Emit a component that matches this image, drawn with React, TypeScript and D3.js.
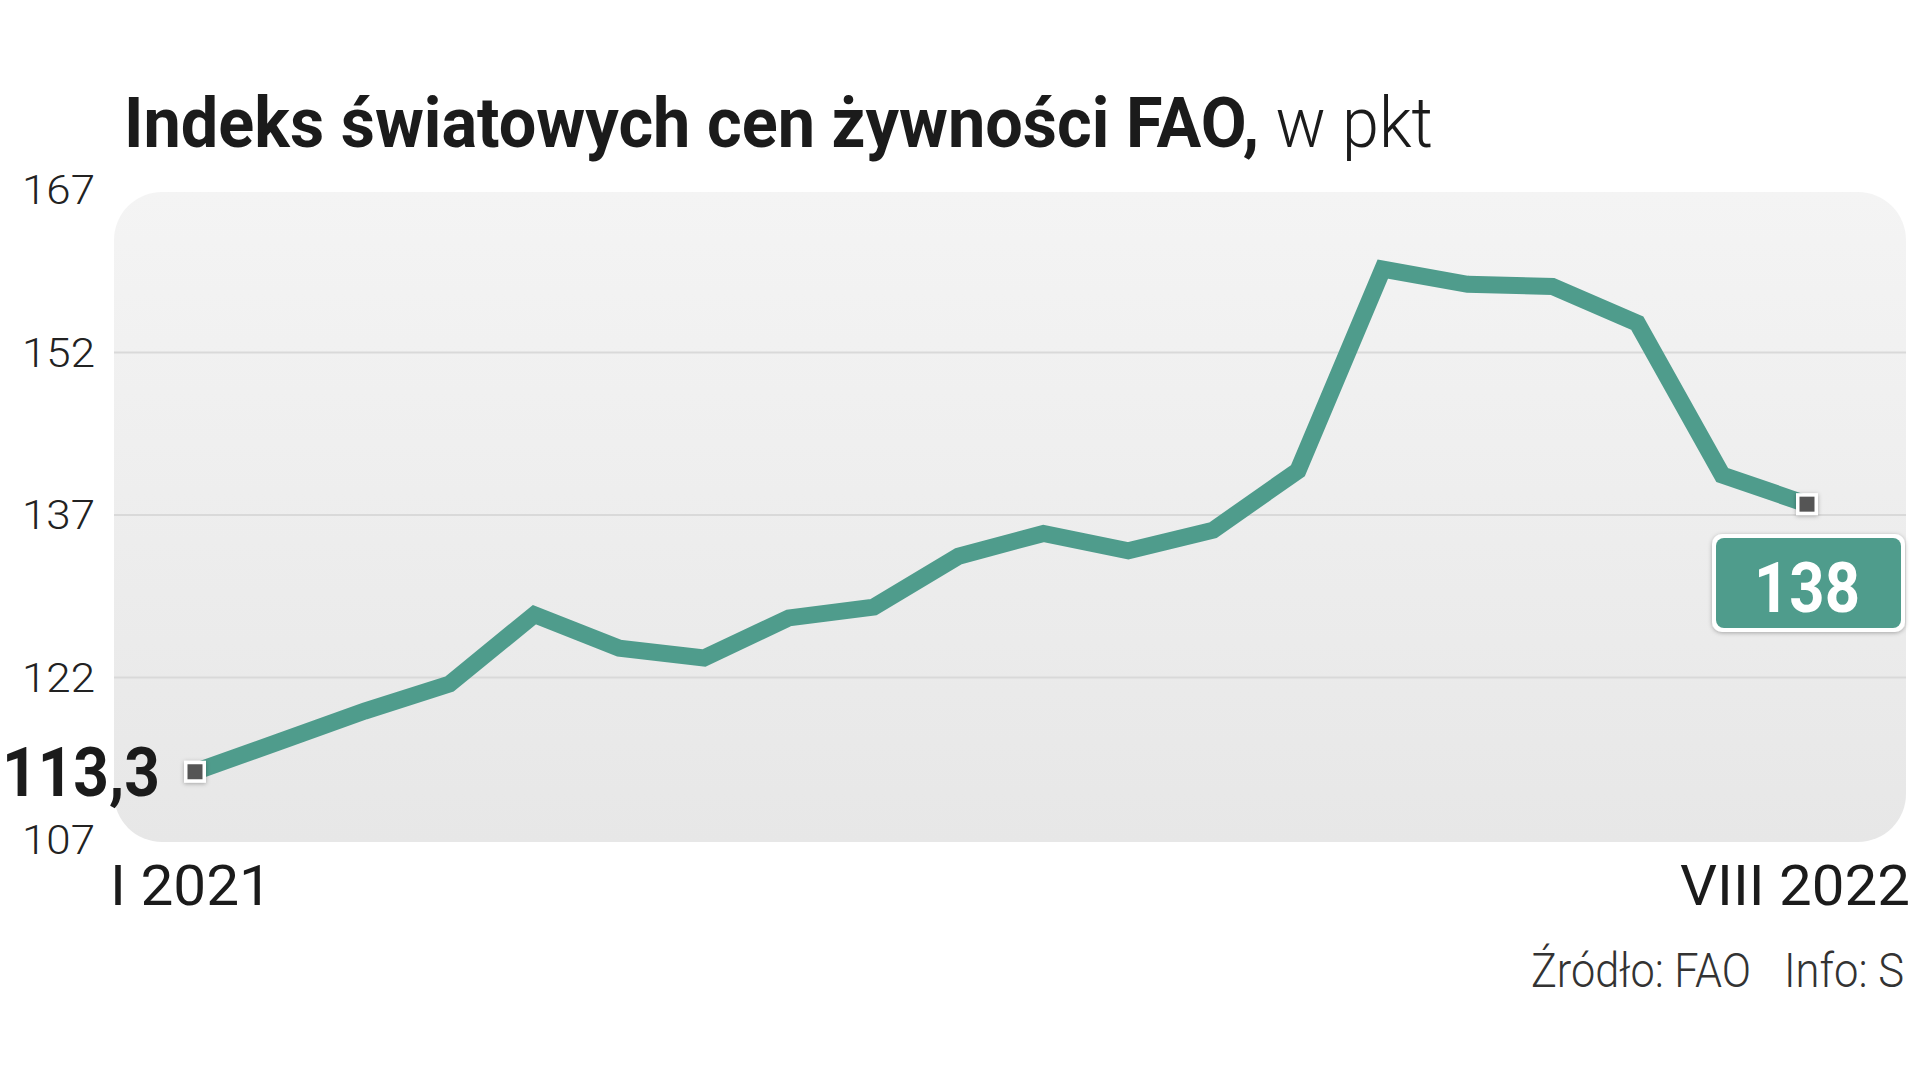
import React from "react";
import * as d3 from "d3";

const months = [
  "I 2021", "II 2021", "III 2021", "IV 2021", "V 2021", "VI 2021", "VII 2021", "VIII 2021",
  "IX 2021", "X 2021", "XI 2021", "XII 2021", "I 2022", "II 2022", "III 2022", "IV 2022",
  "V 2022", "VI 2022", "VII 2022", "VIII 2022",
];
const values = [
  113.3, 116.1, 118.9, 121.4, 127.8, 124.7, 123.8, 127.5, 128.5, 133.2,
  135.3, 133.7, 135.6, 141.1, 159.7, 158.3, 158.1, 154.7, 140.7, 138.0,
];
const yTicks = [107, 122, 137, 152, 167];
const titleBold = "Indeks światowych cen żywności FAO,";
const titleLight = " w pkt";
const firstLabel = "113,3";
const lastLabel = "138";
const sourceText = "Źródło: FAO";
const infoText = "Info: S";

const W = 1920;
const H = 1080;
const TEAL = "#4f9c8c";

export default function App() {
  const x = d3.scalePoint<string>().domain(months).range([195, 1807]);
  const y = d3.scaleLinear().domain([107, 167]).range([840, 190]);
  const line = d3
    .line<number>()
    .x((_, i) => x(months[i]) as number)
    .y((d) => y(d));

  const panel = { x0: 114, x1: 1906, y0: 192, y1: 842 };
  const n = values.length;
  const fx = x(months[0]) as number;
  const fy = y(values[0]);
  const lx = x(months[n - 1]) as number;
  const ly = y(values[n - 1]);

  return (
    <svg
      width={W}
      height={H}
      viewBox={`0 0 ${W} ${H}`}
      style={{ position: "absolute", left: 0, top: 0, background: "#fff" }}
    >
      <defs>
        <linearGradient id="bg" x1="0" y1="0" x2="0" y2="1">
          <stop offset="0" stopColor="#f4f4f4" />
          <stop offset="1" stopColor="#e7e7e7" />
        </linearGradient>
        <filter id="sh" x="-30%" y="-30%" width="160%" height="160%">
          <feDropShadow dx="0" dy="1" stdDeviation="2" floodColor="#000" floodOpacity="0.3" />
        </filter>
      </defs>

      {/* Title */}
      <text
        x={124}
        y={147}
        fontFamily="Roboto, 'Noto Sans', sans-serif"
        fontSize={70}
        fill="#1b1b1b"
        textLength={1309}
        lengthAdjust="spacingAndGlyphs"
        style={{ whiteSpace: "pre" }}
      >
        <tspan fontWeight={700}>{titleBold}</tspan>
        <tspan fontWeight={300}>{titleLight}</tspan>
      </text>

      {/* Panel */}
      <rect
        x={panel.x0}
        y={panel.y0}
        width={panel.x1 - panel.x0}
        height={panel.y1 - panel.y0}
        rx={48}
        ry={48}
        fill="url(#bg)"
      />

      {/* Gridlines */}
      {yTicks
        .filter((t) => y(t) > panel.y0 + 5 && y(t) < panel.y1 - 5)
        .map((t) => (
          <line
            key={t}
            x1={panel.x0}
            x2={panel.x1}
            y1={y(t)}
            y2={y(t)}
            stroke="#d9d9d9"
            strokeWidth={2}
          />
        ))}

      {/* Y tick labels */}
      {yTicks.map((t) => (
        <text
          key={t}
          x={22}
          y={y(t)}
          dy="0.36em"
          fontFamily="Roboto, sans-serif"
          fontWeight={300}
          fontSize={40}
          fill="#222"
          textLength={73}
          lengthAdjust="spacingAndGlyphs"
        >
          {t}
        </text>
      ))}

      {/* Line */}
      <path
        d={line(values) || ""}
        fill="none"
        stroke={TEAL}
        strokeWidth={17}
        strokeLinejoin="miter"
        strokeLinecap="butt"
      />

      {/* Markers */}
      {[
        [fx, fy],
        [lx, ly],
      ].map(([mx, my], i) => (
        <g key={i} filter="url(#sh)">
          <rect x={mx - 11} y={my - 11} width={22} height={22} fill="#fff" />
          <rect x={mx - 7.5} y={my - 7.5} width={15} height={15} fill="#555" />
        </g>
      ))}

      {/* First value label */}
      <text
        x={160}
        y={fy}
        dy="0.35em"
        textAnchor="end"
        fontFamily="Roboto, sans-serif"
        fontWeight={700}
        fontSize={68}
        fill="#1b1b1b"
        textLength={158}
        lengthAdjust="spacingAndGlyphs"
      >
        {firstLabel}
      </text>

      {/* Last value box */}
      <g filter="url(#sh)">
        <rect x={1712} y={534} width={193} height={98} rx={10} fill="#fff" />
        <rect x={1716} y={538} width={185} height={90} rx={8} fill={TEAL} />
      </g>
      <text
        x={lx}
        y={612}
        textAnchor="middle"
        fontFamily="Roboto, sans-serif"
        fontWeight={700}
        fontSize={70}
        fill="#fff"
        textLength={106}
        lengthAdjust="spacingAndGlyphs"
      >
        {lastLabel}
      </text>

      {/* X labels */}
      <text
        x={110}
        y={905}
        fontFamily="Roboto, sans-serif"
        fontWeight={400}
        fontSize={56}
        fill="#1b1b1b"
        textLength={162}
        lengthAdjust="spacingAndGlyphs"
      >
        {months[0]}
      </text>
      <text
        x={1910}
        y={905}
        textAnchor="end"
        fontFamily="Roboto, sans-serif"
        fontWeight={400}
        fontSize={56}
        fill="#1b1b1b"
        textLength={230}
        lengthAdjust="spacingAndGlyphs"
      >
        {months[n - 1]}
      </text>

      {/* Source */}
      <text
        x={1531}
        y={987}
        fontFamily="Roboto, sans-serif"
        fontWeight={300}
        fontSize={48}
        fill="#333"
        textLength={220}
        lengthAdjust="spacingAndGlyphs"
      >
        {sourceText}
      </text>
      <text
        x={1784}
        y={987}
        fontFamily="Roboto, sans-serif"
        fontWeight={300}
        fontSize={48}
        fill="#333"
        textLength={120}
        lengthAdjust="spacingAndGlyphs"
      >
        {infoText}
      </text>
    </svg>
  );
}
